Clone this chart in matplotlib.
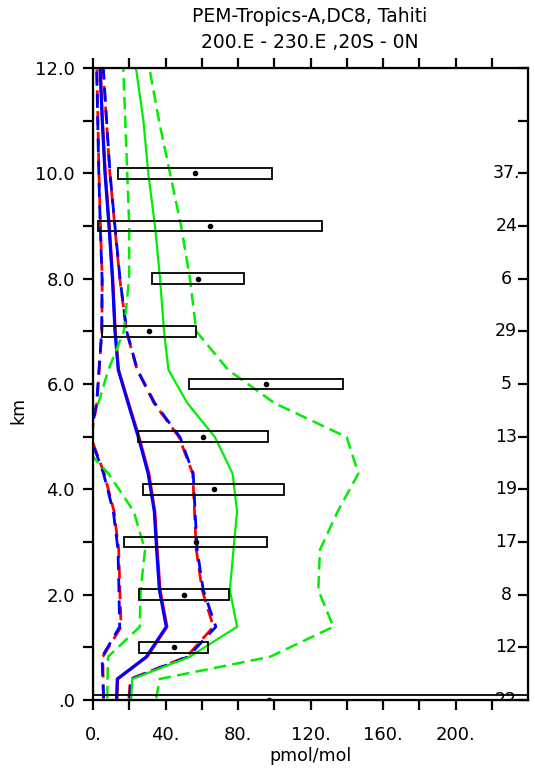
import numpy as np
import matplotlib
matplotlib.use("Agg")
import matplotlib.pyplot as plt
from matplotlib.patches import Rectangle

# model levels (km)
lev = [0.03, 0.40, 0.82, 1.39, 2.09, 2.85, 3.58, 4.30, 4.99, 5.64, 6.27,
       7.0, 8.0, 9.0, 10.0, 11.0, 12.0]

# model 1 (blue) and model 2 (red): mean and mean +/- sd
blue_mean = [13.0, 13.4, 29.4, 40.4, 36.6, 35.1, 33.8, 30.4, 25.0, 19.3, 13.9,
             12.1, 10.7, 8.8, 6.6, 5.1, 3.9]
blue_lo = [5.9, 5.4, 5.0, 14.7, 14.3, 13.8, 11.2, 5.8, -1.5, 2.0, 3.3,
           4.8, 5.0, 4.0, 3.2, 2.6, 2.0]
blue_hi = [20.2, 21.0, 52.4, 67.8, 60.8, 57.5, 56.3, 55.3, 48.0, 34.0, 24.5,
           18.6, 14.9, 12.1, 9.4, 7.5, 5.7]
red_mean = [13.2, 13.6, 29.8, 40.8, 37.0, 35.4, 34.1, 30.8, 25.4, 19.6, 14.1,
            12.3, 10.9, 9.0, 6.8, 5.2, 4.0]
red_lo = [5.7, 5.6, 5.4, 15.5, 14.8, 14.2, 11.6, 6.2, -1.2, 2.2, 3.4,
          4.9, 5.1, 4.1, 3.3, 2.7, 2.1]
red_hi = [19.8, 20.6, 51.6, 66.4, 60.2, 57.0, 56.0, 55.0, 47.5, 33.6, 24.3,
          18.5, 14.8, 12.0, 9.3, 7.4, 5.6]

# model 3 (green): mean and range
green_mean = [21.1, 21.7, 53.3, 79.5, 75.5, 77.5, 79.5, 77.0, 67.3, 52.0, 41.6,
              39.2, 37.0, 34.2, 30.5, 27.8, 23.7]
green_lo = [7.9, 8.0, 8.3, 25.8, 26.3, 28.7, 22.5, 8.5, -10.0, 3.0, 8.5,
            17.0, 19.9, 20.0, 18.9, 17.8, 16.7]
green_hi = [34.9, 36.8, 97.7, 132.6, 124.3, 125.2, 135.0, 146.4, 140.0, 100.0, 74.5,
            57.0, 53.5, 48.6, 42.5, 36.4, 31.1]

# observations: altitude bins, low/high bar, median dot, number of points
obs_alt = [10.0, 9.0, 8.0, 7.0, 6.0, 5.0, 4.0, 3.0, 2.0, 1.0, 0.0]
obs_lo = [13.9, 2.9, 32.4, 4.8, 53.1, 25.0, 27.6, 17.3, 25.5, 25.5, 0.0]
obs_hi = [98.9, 126.1, 83.3, 56.6, 138.1, 96.7, 105.5, 96.2, 75.2, 63.6, 260.0]
obs_med = [56.3, 64.6, 57.7, 30.9, 95.4, 60.9, 66.6, 56.7, 50.4, 44.7, 97.0]
obs_n = ["37.", "24", "6", "29", "5", "13", "19", "17", "8", "12", "22"]

fig = plt.figure(figsize=(5.35, 7.68), dpi=100)
ax = fig.add_axes([93 / 535, 1 - 700 / 768, 435 / 535, 632 / 768])

ax.plot(red_lo, lev, color="red", lw=2.0, dashes=(5, 2.5))
ax.plot(red_hi, lev, color="red", lw=2.0, dashes=(5, 2.5))
ax.plot(red_mean, lev, color="red", lw=2.2)
ax.plot(blue_lo, lev, color="blue", lw=2.0, dashes=(5, 3))
ax.plot(blue_hi, lev, color="blue", lw=2.0, dashes=(5, 3))
ax.plot(blue_mean, lev, color="blue", lw=2.2)
ax.plot(green_mean, lev, color="#00ee00", lw=1.6)
ax.plot(green_lo, lev, color="#00ee00", lw=1.8, dashes=(5, 2.5))
ax.plot(green_hi, lev, color="#00ee00", lw=1.8, dashes=(5, 2.5))

for a, lo, hi, md, n in zip(obs_alt, obs_lo, obs_hi, obs_med, obs_n):
    ax.add_patch(Rectangle((lo, a - 0.1), hi - lo, 0.2, fill=False,
                           edgecolor="black", lw=1.3, zorder=3))
    ax.plot(md, a, "o", color="black", ms=3, zorder=4)
    ax.text(228, a, n, ha="center", va="center", fontsize=12.5, clip_on=True)

ax.set_xlim(0, 240)
ax.set_ylim(0, 12)
ax.set_xticks(np.arange(0, 240, 20))
ax.set_xticklabels(["0.", "", "40.", "", "80.", "", "120.", "", "160.", "", "200.", ""])
ax.set_yticks(np.arange(0, 13, 1))
ax.set_yticklabels([".0", "", "2.0", "", "4.0", "", "6.0", "", "8.0", "", "10.0", "", "12.0"])
ax.tick_params(axis="x", direction="out", top=True, length=7, width=1.6,
               labelsize=13, pad=12)
ax.tick_params(axis="y", direction="out", length=7, width=1.6, labelsize=13, pad=6)
for s in ax.spines.values():
    s.set_linewidth(1.6)

ax2 = ax.twinx()
ax2.set_ylim(0, 12)
ax2.set_yticks(np.arange(0, 13, 1))
ax2.tick_params(axis="y", direction="in", length=7, width=1.6, labelright=False)

ax.set_xlabel("pmol/mol", fontsize=12.5, labelpad=2)
fig.text(18 / 535, 1 - 410 / 768, "km", rotation=90, fontsize=12.5,
         ha="center", va="center")
fig.text(310 / 535, 1 - 17 / 768, "PEM-Tropics-A,DC8, Tahiti", fontsize=13.5,
         ha="center", va="center")
fig.text(310 / 535, 1 - 43 / 768, "200.E - 230.E ,20S - 0N", fontsize=13.5,
         ha="center", va="center")

fig.savefig("out.png", dpi=100)
